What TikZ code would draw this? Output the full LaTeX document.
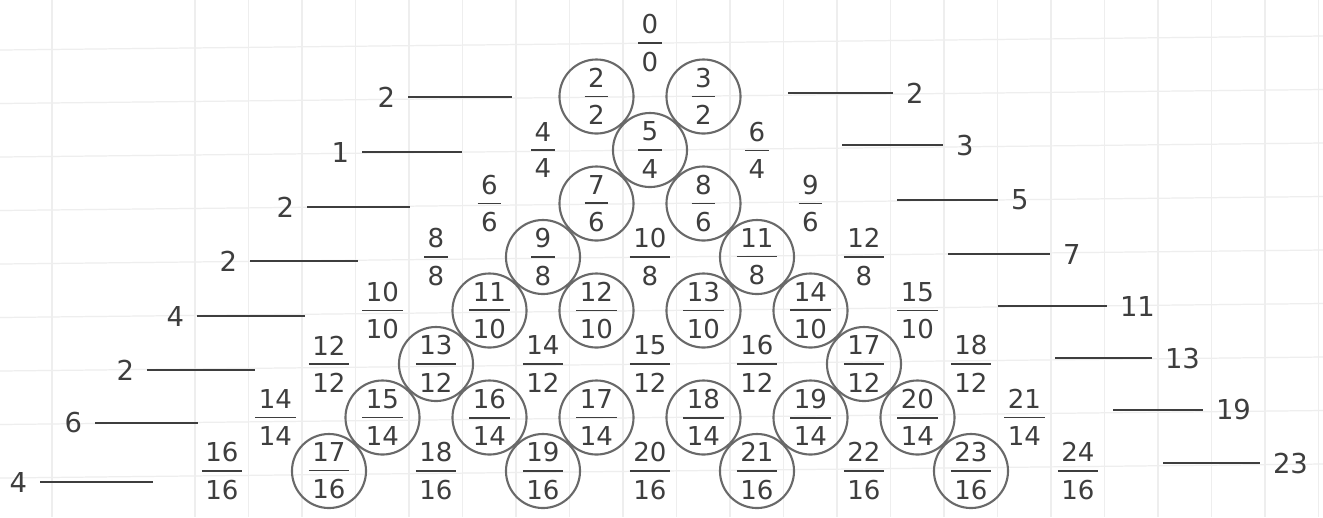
\documentclass[tikz,border=0pt]{standalone}
\usepackage{fontspec}
\setmainfont{DejaVu Sans}
\usepackage{tikz}
\usetikzlibrary{positioning}
\definecolor{pencil}{RGB}{62, 62, 62}
\definecolor{ringgray}{RGB}{105, 105, 105}
\definecolor{paperline}{RGB}{238, 238, 238}
\newcommand{\fr}[2]{%
  \vbox{\offinterlineskip\halign{\hfil\hskip1pt##\hskip1pt\hfil\cr
    #1\cr\noalign{\kern2.3pt\hrule height0.45pt\kern2.3pt}#2\cr}}}
\tikzset{
  frac/.style   = {inner sep=0pt, text=pencil, font=\fontsize{7.4}{9}\selectfont},
  ring/.style   = {draw=ringgray, line width=0.6pt},
  tally/.style  = {draw=pencil, line width=0.6pt},
  cnt/.style    = {inner sep=3.5pt, text=pencil, font=\fontsize{7.8}{9}\selectfont},
  paper/.style  = {draw=paperline, line width=0.35pt},
}

\begin{document}
\begin{tikzpicture}[x=0.01cm, y=-0.01cm]
  \fill[white] (0,0) rectangle (1323,517);
  \useasboundingbox (0,0) rectangle (1323,517);

  % graph paper
  \draw[paper] (52,0) -- (52,517);
  \foreach \i in {0,...,21}
    \draw[paper] ({195+53.5*\i},0) -- ({195+53.5*\i},517);
  \foreach \j in {0,...,8}
    \draw[paper] (0,{50+53.5*\j}) -- (1323,{36+53.5*\j});

  % the triangle of fractions
  \node[frac] (f0-0) at (650,43) {\fr{0}{0}};
  \foreach \n in {1,...,8} {
    \pgfmathtruncatemacro\kmin{2*\n}
    \pgfmathtruncatemacro\kmax{3*\n}
    \foreach \k in {\kmin,...,\kmax}
      \node[frac] (f\n-\k) at ({650+53.5*(2*\k-5*\n)},{43+53.5*\n}) {\fr{\k}{\kmin}};
  }

  \foreach \n/\k in {1/2,1/3,2/5,3/7,3/8,4/9,4/11,5/11,5/12,5/13,5/14,6/13,6/17,
                     7/15,7/16,7/17,7/18,7/19,7/20,8/17,8/19,8/21,8/23}
    \draw[ring] (f\n-\k) circle[radius=0.37cm];

  % counts on the left
  \foreach \n/\c/\xa/\y/\xb in {1/2/408/97/512, 2/1/362/152/462, 3/2/307/207/410,
                                4/2/250/261/358, 5/4/197/316/305, 6/2/147/370/255,
                                7/6/95/423/198, 8/4/40/482/153} {
    \node[cnt, anchor=east] (cl\n) at (\xa,\y) {\c};
    \coordinate (le\n) at (\xb,\y);
    \draw[tally] (cl\n) -- (le\n);
  }

  % values on the right
  \foreach \n/\c/\xa/\y/\xb in {1/2/788/93/893, 2/3/842/145/943, 3/5/897/200/998,
                                4/7/948/254/1050, 5/11/998/306/1107, 6/13/1055/358/1152,
                                7/19/1113/410/1203, 8/23/1163/463/1260} {
    \coordinate (rs\n) at (\xa,\y);
    \node[cnt, anchor=west] (cr\n) at (\xb,\y) {\c};
    \draw[tally] (rs\n) -- (cr\n);
  }
\end{tikzpicture}
\end{document}
